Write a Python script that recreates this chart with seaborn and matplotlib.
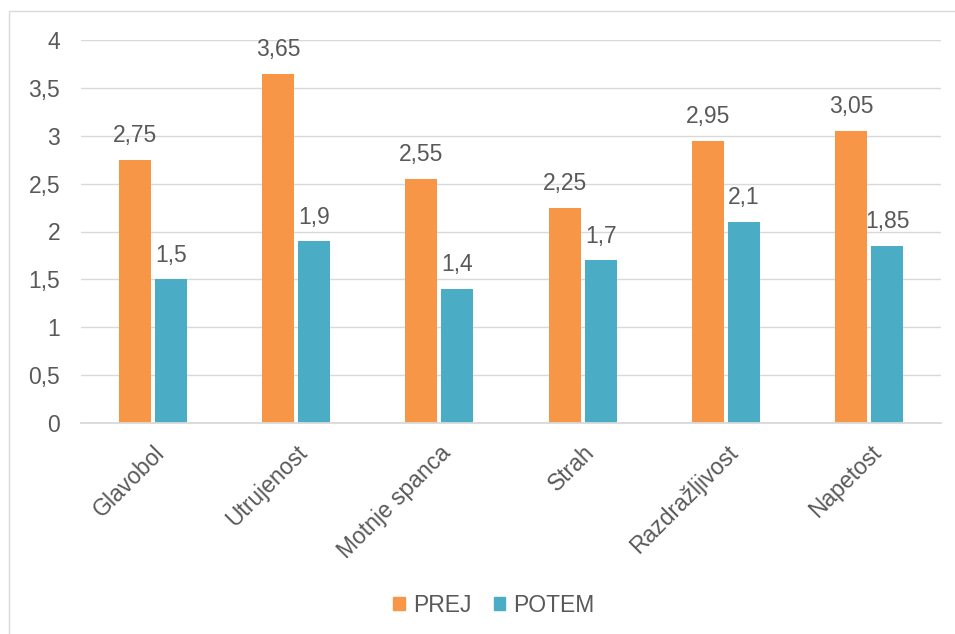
import matplotlib
matplotlib.use("Agg")
import matplotlib.pyplot as plt
from matplotlib.patches import Rectangle
import seaborn as sns
import pandas as pd

categories = ["Glavobol", "Utrujenost", "Motnje spanca", "Strah", "Razdražljivost", "Napetost"]
prej = [2.75, 3.65, 2.55, 2.25, 2.95, 3.05]
potem = [1.5, 1.9, 1.4, 1.7, 2.1, 1.85]
series = ["PREJ", "POTEM"]
colors = ["#F79646", "#4BACC6"]
y_ticks = [0, 0.5, 1, 1.5, 2, 2.5, 3, 3.5, 4]

df = pd.DataFrame({
    "kategorija": categories * 2,
    "vrednost": prej + potem,
    "serija": [series[0]] * len(categories) + [series[1]] * len(categories),
})

sns.set_theme(style="white")
plt.rcParams["font.family"] = ["Liberation Sans", "DejaVu Sans"]
text_color = "#595959"
grid_color = "#D9D9D9"
fs = 16.5

fig = plt.figure(figsize=(9.55, 6.34), dpi=100)
ax = fig.add_axes([81 / 955, 1 - 423 / 634, 860 / 955, 383 / 634])

sns.barplot(data=df, x="kategorija", y="vrednost", hue="serija",
            palette=colors, width=0.502, gap=0.11, ax=ax,
            edgecolor="none", linewidth=0, saturation=1, legend=False)

ax.set_ylim(0, 4)
ax.set_xlim(-0.5, len(categories) - 0.5)
ax.set_yticks(y_ticks)
ax.set_yticklabels([f"{t:g}".replace(".", ",") for t in y_ticks])
ax.yaxis.grid(True, color=grid_color, linewidth=1)
ax.set_axisbelow(True)
for side in ["top", "right", "left"]:
    ax.spines[side].set_visible(False)
ax.spines["bottom"].set_color(grid_color)
ax.spines["bottom"].set_linewidth(1.3)
ax.tick_params(axis="y", length=0, pad=15, labelsize=fs, labelcolor=text_color)
ax.tick_params(axis="x", length=0, pad=13, labelsize=fs, labelcolor=text_color)
plt.setp(ax.get_xticklabels(), rotation=45, ha="right", rotation_mode="anchor")
ax.set_xlabel("")
ax.set_ylabel("")

# value labels above each bar
for container in ax.containers:
    labels = [f"{b.get_height():g}".replace(".", ",") for b in container]
    ax.bar_label(container, labels=labels, padding=9, fontsize=fs, color=text_color)

handles = [Rectangle((0, 0), 1, 1, color=c) for c in colors]
fig.legend(handles, series, loc="center", bbox_to_anchor=(494 / 955, 1 - 605 / 634),
           ncol=2, frameon=False, fontsize=fs, labelcolor=text_color,
           handlelength=0.5, handleheight=0.5, handletextpad=0.35, columnspacing=1.0)

# thin outline around the chart area
fig.patches.append(Rectangle((9 / 955, -0.05), 1.1, 1 - 11 / 634 + 0.05,
                             transform=fig.transFigure, fill=False,
                             edgecolor=grid_color, linewidth=1))

fig.savefig("out.png", dpi=100, facecolor="white")
